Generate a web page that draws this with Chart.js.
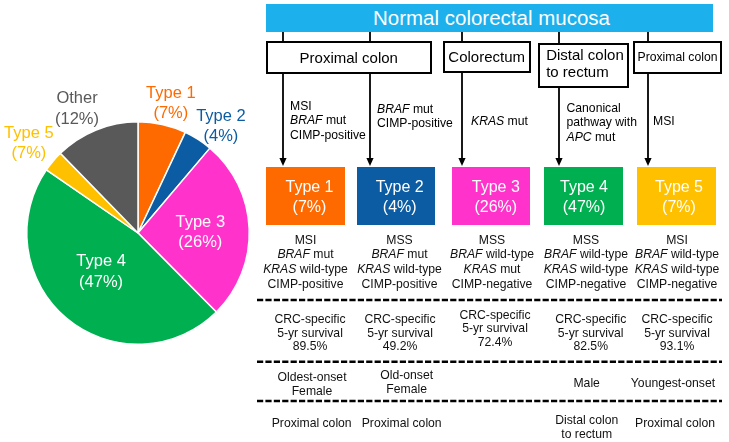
<!DOCTYPE html>
<html><head><meta charset="utf-8">
<script src="https://cdn.jsdelivr.net/npm/chart.js@4.4.1/dist/chart.umd.min.js"></script>
<style>
html,body{margin:0;padding:0;background:#fff;}
#wrap{position:relative;width:729px;height:442px;overflow:hidden;font-family:'Liberation Sans',Arial,Helvetica,sans-serif;color:#111;background:#fff;}
#pie{position:absolute;left:0;top:0;}
#lines{position:absolute;left:0;top:0;}
.t{position:absolute;white-space:nowrap;}
.box{position:absolute;box-sizing:border-box;border:2px solid #000;background:#fff;}
.tbox{position:absolute;box-sizing:border-box;}
</style></head><body>
<div id="wrap">
<canvas id="pie" width="276" height="442"></canvas>
<svg id="lines" width="729" height="442" xmlns="http://www.w3.org/2000/svg"></svg>
</div>
<script>
// ---------- data ----------
const categories = ['Type 1','Type 2','Type 3','Type 4','Type 5','Other'];
const sliceValues = [7, 4.2, 26.4, 47.1, 3.1, 12.3];
const percentLabels = ['7%','4%','26%','47%','7%','12%'];
const headerTitle = 'Normal colorectal mucosa';
const originSites = [['Proximal colon'], ['Colorectum'], ['Distal colon','to rectum'], ['Proximal colon']];
const pathways = [['MSI','BRAF mut','CIMP-positive'], ['BRAF mut','CIMP-positive'], ['KRAS mut'], ['Canonical','pathway with','APC mut'], ['MSI']];
const msStatus = ['MSI','MSS','MSS','MSS','MSI'];
const brafStatus = ['mut','mut','wild-type','wild-type','wild-type'];
const krasStatus = ['wild-type','wild-type','mut','wild-type','wild-type'];
const cimpStatus = ['positive','positive','negative','negative','negative'];
const survival5yr = ['89.5%','49.2%','72.4%','82.5%','93.1%'];
const demographics = [['Oldest-onset','Female'], ['Old-onset','Female'], [], ['Male'], ['Youngest-onset']];
const tumorLocation = [['Proximal colon'], ['Proximal colon'], [], ['Distal colon','to rectum'], ['Proximal colon']];

// ---------- styles / layout ----------
const sliceColors = ['#FF6A00','#0B5CA3','#FF33CC','#00B050','#FFC000','#595959'];
const labelColors = ['#FF6A00','#0B5CA3','#FFFFFF','#FFFFFF','#FFC000','#595959'];
const labelRadius = [1.205, 1.215, 0.56, 0.48, 1.27, 1.245];
const labelNudgeDeg = [1.6, 5.1, 1.5, 3.8, -0.75, -4];
const FONT = "'Liberation Sans', Arial, Helvetica, sans-serif";

const sliceLabelPlugin = {
  id: 'sliceLabels',
  afterDatasetsDraw(chart) {
    const ctx = chart.ctx;
    const meta = chart.getDatasetMeta(0);
    ctx.save();
    ctx.font = '16.5px ' + FONT;
    ctx.textAlign = 'center';
    ctx.textBaseline = 'middle';
    meta.data.forEach((arc, i) => {
      const p = arc.getProps(['x','y','startAngle','endAngle','outerRadius'], true);
      const mid = (p.startAngle + p.endAngle) / 2 + labelNudgeDeg[i] * Math.PI / 180;
      const r = p.outerRadius * labelRadius[i];
      const px = p.x + Math.cos(mid) * r;
      const py = p.y + Math.sin(mid) * r;
      ctx.fillStyle = labelColors[i];
      ctx.fillText(categories[i], px, py - 10);
      ctx.fillText('(' + percentLabels[i] + ')', px, py + 10.5);
    });
    ctx.restore();
  }
};

new Chart(document.getElementById('pie'), {
  type: 'pie',
  data: { labels: categories, datasets: [{ data: sliceValues, backgroundColor: sliceColors, borderColor: '#ffffff', borderWidth: 1.5 }] },
  options: {
    responsive: false, animation: false,
    layout: { padding: { left: 26, right: 26, top: 121, bottom: 97 } },
    plugins: { legend: { display: false }, tooltip: { enabled: false } }
  },
  plugins: [sliceLabelPlugin]
});

// ---------- diagram ----------
const wrap = document.getElementById('wrap');
const svg = document.getElementById('lines');
const NS = 'http://www.w3.org/2000/svg';
function svgEl(tag, attrs) { const e = document.createElementNS(NS, tag); for (const k in attrs) e.setAttribute(k, attrs[k]); svg.appendChild(e); return e; }
function ital(s) { return s.replace(/\b(BRAF|KRAS|APC)\b/g, '<i>$1</i>'); }
function text(lines, x, cy, lh, size, align, color) {
  const d = document.createElement('div');
  d.className = 't';
  d.style.fontSize = size + 'px';
  d.style.lineHeight = lh + 'px';
  d.style.top = (cy - lh / 2) + 'px';
  d.style.color = color || '#111';
  if (align === 'center') { d.style.left = (x - 150) + 'px'; d.style.width = '300px'; d.style.textAlign = 'center'; }
  else { d.style.left = x + 'px'; }
  d.innerHTML = lines.map(ital).join('<br>');
  wrap.appendChild(d);
  return d;
}

// header bar
const hb = document.createElement('div');
hb.style.cssText = 'position:absolute;left:266px;top:4px;width:447px;height:28px;background:#1CB0EC;color:#fff;font-size:20.5px;line-height:28px;text-align:center;white-space:nowrap;';
hb.style.paddingLeft = '4px'; hb.style.boxSizing = 'border-box';
hb.textContent = headerTitle;
wrap.appendChild(hb);

// column lines + arrows
const colX = [283, 370, 462, 559, 648];
colX.forEach(x => {
  svgEl('line', { x1: x, y1: 31, x2: x, y2: 159, stroke: '#000', 'stroke-width': 1.8 });
  svgEl('polygon', { points: `${x-3.6},158 ${x+3.6},158 ${x},166`, fill: '#000' });
});

// origin boxes
const siteBoxes = [
  { l: 266, t: 41, w: 165.5, h: 33, size: 15, align: 'center' },
  { l: 442.7, t: 41, w: 88, h: 31.7, size: 15, align: 'center' },
  { l: 537.7, t: 43.3, w: 91.6, h: 45, size: 15, align: 'left' },
  { l: 633.3, t: 41, w: 88.4, h: 33, size: 12.2, align: 'center' }
];
siteBoxes.forEach((b, i) => {
  const d = document.createElement('div');
  d.className = 'box';
  d.style.left = b.l + 'px'; d.style.top = b.t + 'px'; d.style.width = b.w + 'px'; d.style.height = b.h + 'px';
  wrap.appendChild(d);
  const lines = originSites[i];
  if (b.align === 'center') {
    text(lines, b.l + b.w / 2, b.t + b.h / 2, 17.4, b.size, 'center', '#000');
  } else {
    text(lines, b.l + 8.5, b.t + 11, 17.4, b.size, 'left', '#000');
  }
});

// pathway annotations
const pathX = [290, 377, 471, 566.5, 653];
const pathY = [106, 108.7, 120.7, 108, 120.7];
pathways.forEach((lines, i) => text(lines, pathX[i], pathY[i], 14.4, 12.2, 'left', '#000'));

// type boxes
const typeBoxL = [266, 356.7, 451.7, 544.3, 637.3];
const typeTextX = [309.5, 399.7, 495.8, 584, 679];
for (let i = 0; i < 5; i++) {
  const d = document.createElement('div');
  d.className = 'tbox';
  d.style.cssText += `left:${typeBoxL[i]}px;top:167px;width:78.5px;height:58px;background:${sliceColors[i]};`;
  wrap.appendChild(d);
  text([categories[i], '(' + percentLabels[i] + ')'], typeTextX[i], 186.5, 20, 16, 'center', '#fff');
}

// molecular features
const featX = [305.5, 399.5, 492, 586, 677];
for (let i = 0; i < 5; i++) {
  text([msStatus[i], 'BRAF ' + brafStatus[i], 'KRAS ' + krasStatus[i], 'CIMP-' + cimpStatus[i]], featX[i], 240, 14.8, 12.2, 'center', '#111');
}

// dashed separators
[300, 361.7, 401].forEach(y => svgEl('line', { x1: 257, y1: y, x2: 722, y2: y, stroke: '#000', 'stroke-width': 2.5, 'stroke-dasharray': '6.2 2.2' }));

// survival
const survX = [310, 400, 495, 590.7, 677];
const survY = [320, 320, 315.7, 320, 320];
survival5yr.forEach((v, i) => text(['CRC-specific', '5-yr survival', v], survX[i], survY[i], 13.4, 12.2, 'center', '#111'));

// demographics
const demoX = [312, 406.7, 495, 586.7, 673];
const demoY = [376.7, 375, 383, 383, 383];
demographics.forEach((lines, i) => { if (lines.length) text(lines, demoX[i], demoY[i], 14.3, 12.2, 'center', '#111'); });

// location
const locX = [311.7, 401.7, 495, 586.7, 675];
const locY = [423.3, 423.3, 423.3, 420, 423.3];
tumorLocation.forEach((lines, i) => { if (lines.length) text(lines, locX[i], locY[i], 14.3, 12.2, 'center', '#111'); });
</script>
</body></html>
